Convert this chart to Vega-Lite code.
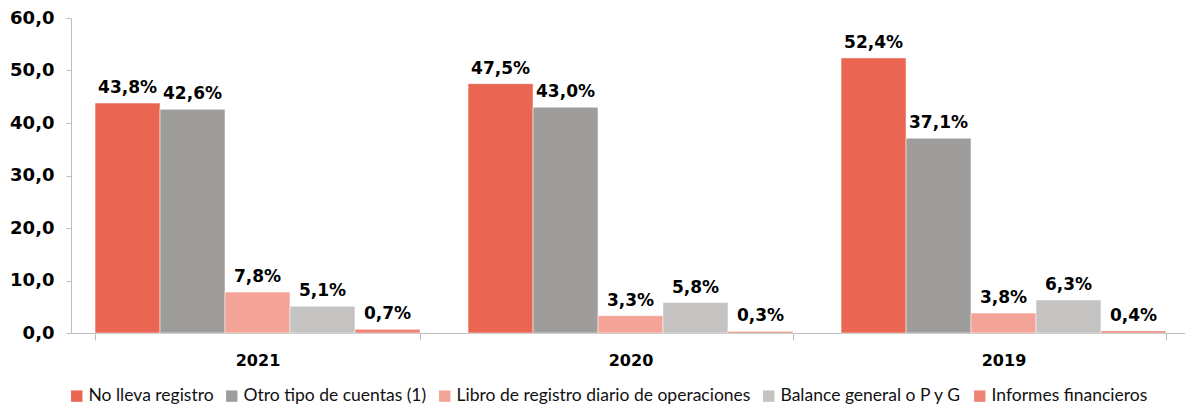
{
  "$schema": "https://vega.github.io/schema/vega-lite/v6.json",
  "width": 1119,
  "height": 315,
  "autosize": {"type": "none"},
  "padding": {"left": 71, "top": 18, "right": -5, "bottom": 78},
  "background": "white",
  "data": {
    "values": [
      {"year": "2021", "serie": "No lleva registro", "v": 43.8},
      {"year": "2021", "serie": "Otro tipo de cuentas (1)", "v": 42.6},
      {"year": "2021", "serie": "Libro de registro diario de operaciones", "v": 7.8},
      {"year": "2021", "serie": "Balance general o P y G", "v": 5.1},
      {"year": "2021", "serie": "Informes financieros", "v": 0.7},
      {"year": "2020", "serie": "No lleva registro", "v": 47.5},
      {"year": "2020", "serie": "Otro tipo de cuentas (1)", "v": 43.0},
      {"year": "2020", "serie": "Libro de registro diario de operaciones", "v": 3.3},
      {"year": "2020", "serie": "Balance general o P y G", "v": 5.8},
      {"year": "2020", "serie": "Informes financieros", "v": 0.3},
      {"year": "2019", "serie": "No lleva registro", "v": 52.4},
      {"year": "2019", "serie": "Otro tipo de cuentas (1)", "v": 37.1},
      {"year": "2019", "serie": "Libro de registro diario de operaciones", "v": 3.8},
      {"year": "2019", "serie": "Balance general o P y G", "v": 6.3},
      {"year": "2019", "serie": "Informes financieros", "v": 0.4}
    ]
  },
  "transform": [
    {"calculate": "replace(format(datum.v, '.1f'), '.', ',') + '%'", "as": "label"}
  ],
  "encoding": {
    "x": {
      "field": "year", "type": "nominal", "sort": ["2021", "2020", "2019"],
      "scale": {"paddingInner": 0.129, "paddingOuter": 0.0645},
      "axis": {
        "title": null, "labelAngle": 0, "tickBand": "extent",
        "domainColor": "#BFBFBF", "tickColor": "#BFBFBF", "tickSize": 7,
        "labelFont": "DejaVu Sans", "labelFontWeight": "bold", "labelFontSize": 16,
        "labelColor": "#000000", "labelPadding": 12
      }
    },
    "xOffset": {
      "field": "serie", "type": "nominal",
      "sort": ["No lleva registro", "Otro tipo de cuentas (1)", "Libro de registro diario de operaciones", "Balance general o P y G", "Informes financieros"],
      "scale": {"paddingInner": 0, "paddingOuter": 0}
    },
    "y": {
      "field": "v", "type": "quantitative",
      "scale": {"domain": [0, 60], "nice": false},
      "axis": {
        "title": null, "values": [0, 10, 20, 30, 40, 50, 60], "grid": false,
        "labelExpr": "replace(format(datum.value, '.1f'), '.', ',')",
        "domainColor": "#BFBFBF", "tickColor": "#BFBFBF", "tickSize": 5,
        "labelFont": "DejaVu Sans", "labelFontWeight": "bold", "labelFontSize": 18,
        "labelColor": "#000000", "labelPadding": 12
      }
    }
  },
  "layer": [
    {
      "mark": {"type": "bar", "stroke": "white", "strokeWidth": 0.5},
      "encoding": {
        "color": {
          "field": "serie", "type": "nominal",
          "scale": {
            "domain": ["No lleva registro", "Otro tipo de cuentas (1)", "Libro de registro diario de operaciones", "Balance general o P y G", "Informes financieros"],
            "range": ["#EA6653", "#9E9D9B", "#F3A497", "#C4C3C1", "#EE8574"]
          },
          "legend": {
            "title": null, "orient": "none", "legendX": -3, "legendY": 369, "direction": "horizontal",
            "symbolType": "square", "symbolSize": 130, "symbolStrokeWidth": 0,
            "labelFont": "Lato", "labelFontSize": 17.5, "labelColor": "#111111",
            "labelLimit": 400, "columnPadding": 9, "symbolOffset": 0,
            "labelOffset": 3, "padding": 0
          }
        }
      }
    },
    {
      "mark": {"type": "text", "dy": -10, "baseline": "alphabetic", "font": "DejaVu Sans", "fontWeight": "bold", "fontSize": 17, "color": "#000000"},
      "encoding": {"text": {"field": "label"}}
    }
  ],
  "config": {"view": {"stroke": null}}
}
